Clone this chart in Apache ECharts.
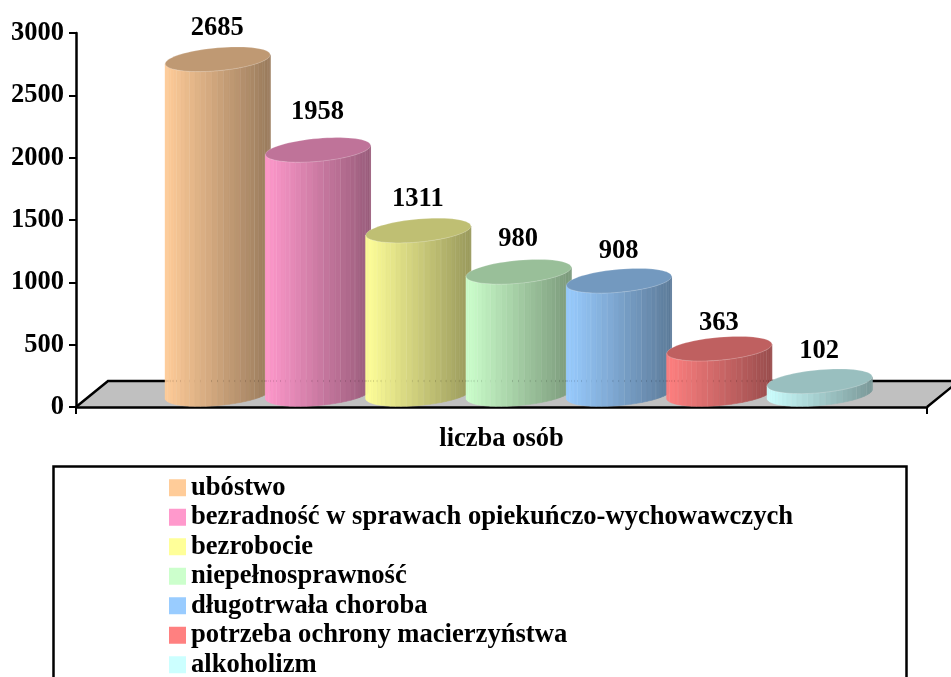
<!DOCTYPE html>
<html>
<head>
<meta charset="utf-8">
<script src="https://cdn.jsdelivr.net/npm/echarts@6/dist/echarts.min.js"></script>
<style>
  html, body { margin: 0; padding: 0; background: #fff; overflow: hidden; }
  #main { width: 951px; height: 677px; }
</style>
</head>
<body>
<div id="main"></div>
<script>
// ------------------ data -------------------
const axisCategories = ['liczba osób'];
const causes = [
  'ubóstwo',
  'bezradność w sprawach opiekuńczo-wychowawczych',
  'bezrobocie',
  'niepełnosprawność',
  'długotrwała choroba',
  'potrzeba ochrony macierzyństwa',
  'alkoholizm'
];
const counts = [2685, 1958, 1311, 980, 908, 363, 102];
const yTicks = { min: 0, max: 3000, interval: 500 };

const colors = ['#FFCC99', '#FF99CC', '#FFFF99', '#CCFFCC', '#99CCFF', '#FF8080', '#CCFFFF'];
// label distance above the cylinder top, differs per bar in the picture
const labelGaps = [31, 38, 31, 33, 30, 26, 30];

const FONT = '"Liberation Serif", "Times New Roman", serif';

function shade(hex, k) {
  const n = parseInt(hex.slice(1), 16);
  const r = Math.round((n >> 16 & 255) * k);
  const g = Math.round((n >> 8 & 255) * k);
  const b = Math.round((n & 255) * k);
  return 'rgb(' + r + ',' + g + ',' + b + ')';
}

// ------------------ floor -------------------
function renderFloor(params, api) {
  const p0 = api.coord([0, 0]);
  const band = api.size([1, 0])[0];
  const left = p0[0] - band / 2;
  const right = p0[0] + band / 2;
  const y = p0[1];
  const dx = 32, dy = 26;
  return {
    type: 'group',
    children: [
      {
        type: 'polygon',
        shape: { points: [[left, y], [left + dx, y - dy], [right + dx, y - dy], [right, y]] },
        style: { fill: '#C0C0C0', stroke: null }
      },
      {
        type: 'polyline',
        shape: { points: [[left, y], [left + dx, y - dy], [right + dx, y - dy], [right, y]] },
        style: { fill: null, stroke: '#000', lineWidth: 2.5 }
      }
    ]
  };
}

// ------------------ cylinder -------------------
function makeRender(idx) {
  return function (params, api) {
    const top = api.coord([0, api.value(1)]);
    const zero = api.coord([0, 0]);
    const band = api.size([1, 0])[0];
    const cx = zero[0] + 17.2 + (idx - 3) * band * 0.1179;
    const rx = band * 0.0617;
    const ry = 11.5, skew = 4.5;
    const baseY = zero[1] - 13;
    const topY = top[1] - 13;
    const color = colors[idx];
    const at = (t, y) => [cx + rx * Math.cos(t), y + ry * Math.sin(t) - skew * Math.cos(t)];
    const children = [];
    const facets = 28;

    // side of the cylinder, from the left edge to the right edge
    for (let i = 0; i < facets; i++) {
      const t1 = Math.PI - Math.PI * i / facets;
      const t2 = Math.PI - Math.PI * (i + 1) / facets;
      const mid = (Math.cos(t1) + Math.cos(t2)) / 2;
      const k = 1 - 0.4 * ((mid + 1) / 2);
      children.push({
        type: 'polygon',
        shape: { points: [at(t1, baseY), at(t2, baseY), at(t2, topY), at(t1, topY)] },
        style: { fill: shade(color, k), stroke: shade(color, k), lineWidth: 0.6 }
      });
      // thin light seams between some facets
      if (i % 3 === 2) {
        children.push({
          type: 'line',
          shape: { x1: at(t2, baseY)[0], y1: at(t2, baseY)[1], x2: at(t2, topY)[0], y2: at(t2, topY)[1] },
          style: { stroke: 'rgba(255,255,255,0.3)', lineWidth: 0.8 }
        });
      }
      // floor's back edge shows through the side as small dots
      if (api.value(1) > 200 && (i < 7 || i > 11)) {
        const x = at(t2, baseY)[0];
        children.push({
          type: 'rect',
          shape: { x: x - 0.5, y: zero[1] - 27, width: 1, height: 2 },
          style: { fill: 'rgba(0,0,0,0.3)' }
        });
      }
    }

    // top face
    const pts = [];
    for (let i = 0; i < 72; i++) {
      pts.push(at(i / 72 * Math.PI * 2, topY));
    }
    children.push({
      type: 'polygon',
      shape: { points: pts },
      style: { fill: shade(color, 0.75), stroke: 'rgba(255,255,255,0.35)', lineWidth: 0.6 }
    });

    // value on top
    children.push({
      type: 'text',
      style: {
        x: cx - 0.5,
        y: topY - labelGaps[idx],
        text: String(api.value(1)),
        align: 'center',
        verticalAlign: 'middle',
        font: 'bold 26.5px ' + FONT,
        fill: '#000'
      }
    });
    return { type: 'group', children: children };
  };
}

// ------------------ chart -------------------
const myChart = echarts.init(document.querySelector('#main'));

const series = [{
  type: 'custom',
  name: 'podloga',
  z: 0,
  silent: true,
  clip: false,
  renderItem: renderFloor,
  data: [[0, 0]],
  encode: { x: 0, y: 1 }
}];
causes.forEach((name, i) => {
  series.push({
    type: 'custom',
    name: name,
    z: 2,
    clip: false,
    itemStyle: { color: colors[i] },
    renderItem: makeRender(i),
    data: [[0, counts[i]]],
    encode: { x: 0, y: 1 }
  });
});

const option = {
  animation: false,
  backgroundColor: '#fff',
  grid: { left: 76, right: 24, top: 33, bottom: 270 },
  xAxis: {
    type: 'category',
    data: axisCategories,
    z: 1,
    axisLine: { lineStyle: { color: '#000', width: 2.5 } },
    axisTick: { show: true, length: 7, lineStyle: { color: '#000', width: 2 } },
    axisLabel: { color: '#000', fontFamily: FONT, fontWeight: 'bold', fontSize: 26.5, margin: 19 }
  },
  yAxis: {
    type: 'value',
    min: yTicks.min,
    max: yTicks.max,
    interval: yTicks.interval,
    z: 1,
    splitLine: { show: false },
    axisLine: { show: true, lineStyle: { color: '#000', width: 2.5 } },
    axisTick: { show: true, length: 7, lineStyle: { color: '#000', width: 2 } },
    axisLabel: {
      color: '#000',
      fontFamily: FONT,
      fontWeight: 'bold',
      fontSize: 26.5,
      margin: 12,
      padding: [6, 0, 0, 0],
      formatter: (v) => String(v)
    }
  },
  legend: {
    data: causes,
    orient: 'vertical',
    left: 169,
    top: 473,
    height: 300,
    padding: 0,
    icon: 'rect',
    itemWidth: 17,
    itemHeight: 17,
    itemGap: 0,
    selectedMode: false,
    textStyle: { color: '#000', fontFamily: FONT, fontWeight: 'bold', fontSize: 26.6, lineHeight: 29.5, padding: 0 }
  },
  graphic: [{
    type: 'rect',
    z: -1,
    shape: { x: 53.5, y: 466.5, width: 853, height: 240 },
    style: { fill: '#fff', stroke: '#000', lineWidth: 2.5 }
  }],
  series: series
};
myChart.setOption(option);
</script>
</body>
</html>
